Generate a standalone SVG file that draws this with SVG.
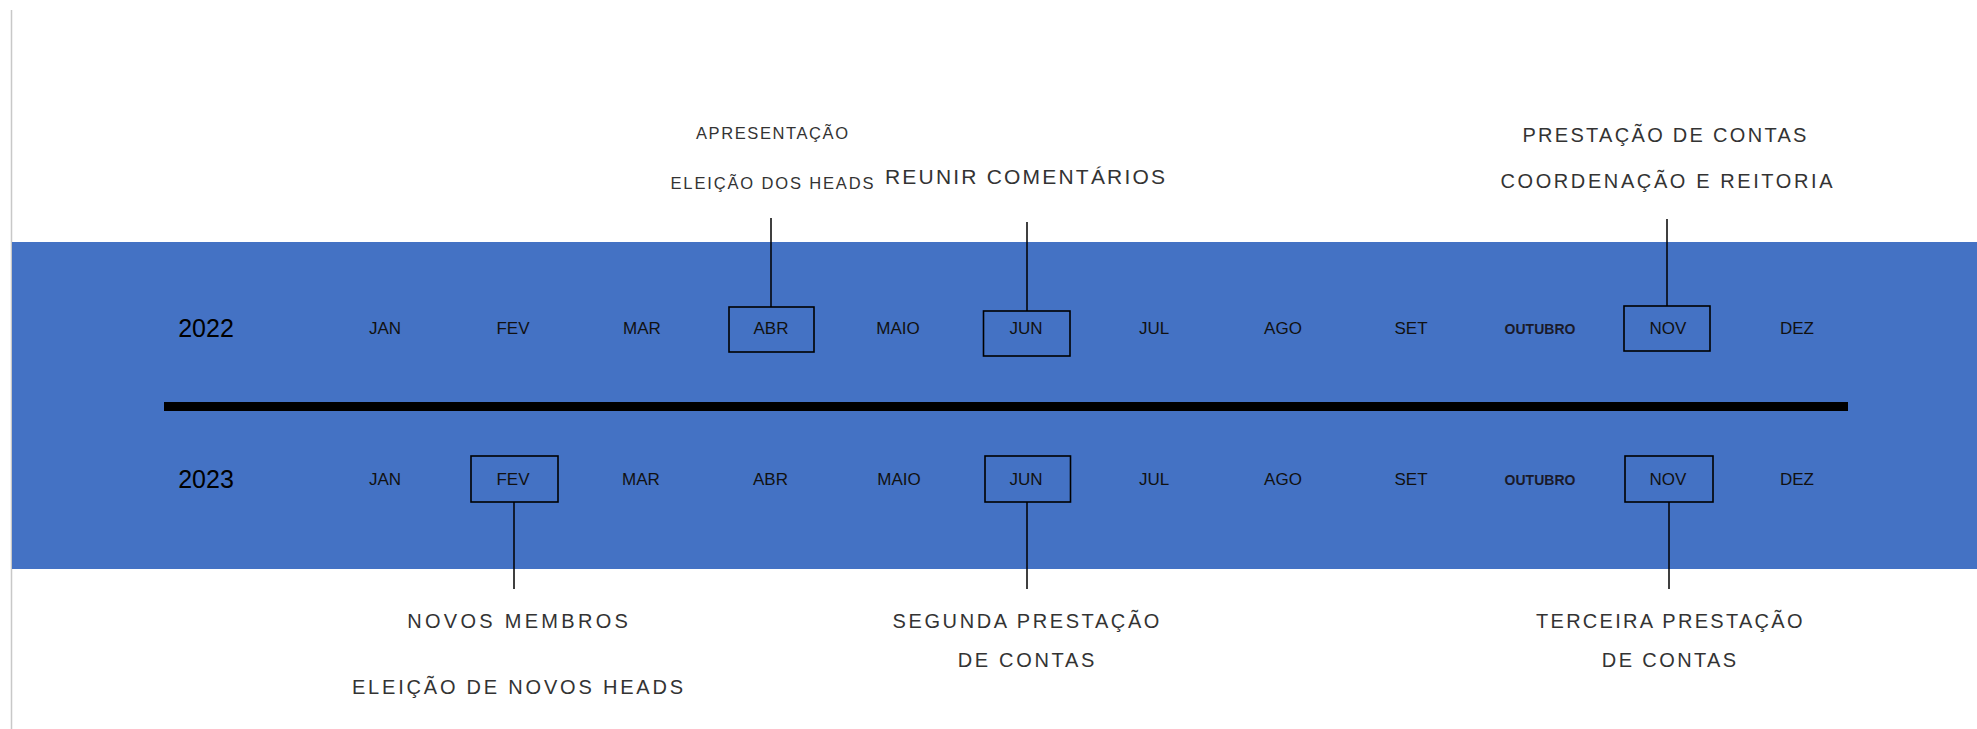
<svg xmlns="http://www.w3.org/2000/svg" width="1977" height="729" viewBox="0 0 1977 729">
<style>
.mon{font-family:"Liberation Sans",Arial,sans-serif;font-size:17px;fill:#111;text-anchor:middle}
.oct{font-family:"Liberation Sans",Arial,sans-serif;font-size:14px;font-weight:bold;fill:#1a1a2a;text-anchor:middle}
.yr{font-family:"Liberation Sans",Arial,sans-serif;font-size:25px;fill:#000;text-anchor:middle}
.lbl{font-family:"Liberation Sans",Arial,sans-serif;font-size:20px;fill:#333;text-anchor:middle}
.sm{font-family:"Liberation Sans",Arial,sans-serif;font-size:16.5px;fill:#333;text-anchor:middle}
.box{fill:none;stroke:#000;stroke-width:1.6}
.con{stroke:#000;stroke-width:1.5;fill:none}
</style>
<rect x="0" y="0" width="1977" height="729" fill="#ffffff"/>
<line x1="11.5" y1="10" x2="11.5" y2="729" stroke="#c8c8c8" stroke-width="1.5"/>
<rect id="band" x="12" y="242" width="1965" height="327" fill="#4472c4"/>
<rect id="axis" x="164" y="402" width="1684" height="9" fill="#000"/>

<g id="connectors">
<line class="con" x1="771" y1="218" x2="771" y2="307"/>
<line class="con" x1="1027" y1="222" x2="1027" y2="311"/>
<line class="con" x1="1667" y1="219" x2="1667" y2="306"/>
<line class="con" x1="514" y1="502" x2="514" y2="589"/>
<line class="con" x1="1027" y1="502" x2="1027" y2="589"/>
<line class="con" x1="1669" y1="502" x2="1669" y2="589"/>
</g>

<g id="year-2022"><text class="yr" x="206" y="337">2022</text></g>
<g id="y22-jan"><text class="mon" x="385" y="334">JAN</text></g>
<g id="y22-fev"><text class="mon" x="513" y="334">FEV</text></g>
<g id="y22-mar"><text class="mon" x="642" y="334">MAR</text></g>
<g id="y22-abr"><rect class="box" x="729" y="307" width="85" height="45"/><text class="mon" x="771" y="334">ABR</text></g>
<g id="y22-maio"><text class="mon" x="898" y="334">MAIO</text></g>
<g id="y22-jun"><rect class="box" x="983.5" y="311" width="86.5" height="45"/><text class="mon" x="1026" y="334">JUN</text></g>
<g id="y22-jul"><text class="mon" x="1154" y="334">JUL</text></g>
<g id="y22-ago"><text class="mon" x="1283" y="334">AGO</text></g>
<g id="y22-set"><text class="mon" x="1411" y="334">SET</text></g>
<g id="y22-out"><text class="oct" x="1540" y="334">OUTUBRO</text></g>
<g id="y22-nov"><rect class="box" x="1624" y="306" width="86" height="45"/><text class="mon" x="1668" y="334">NOV</text></g>
<g id="y22-dez"><text class="mon" x="1797" y="334">DEZ</text></g>

<g id="year-2023"><text class="yr" x="206" y="488">2023</text></g>
<g id="y23-jan"><text class="mon" x="385" y="485">JAN</text></g>
<g id="y23-fev"><rect class="box" x="471" y="456" width="87" height="46"/><text class="mon" x="513" y="485">FEV</text></g>
<g id="y23-mar"><text class="mon" x="641" y="485">MAR</text></g>
<g id="y23-abr"><text class="mon" x="770.5" y="485">ABR</text></g>
<g id="y23-maio"><text class="mon" x="899" y="485">MAIO</text></g>
<g id="y23-jun"><rect class="box" x="985" y="456" width="85.5" height="46"/><text class="mon" x="1026" y="485">JUN</text></g>
<g id="y23-jul"><text class="mon" x="1154" y="485">JUL</text></g>
<g id="y23-ago"><text class="mon" x="1283" y="485">AGO</text></g>
<g id="y23-set"><text class="mon" x="1411" y="485">SET</text></g>
<g id="y23-out"><text class="oct" x="1540" y="485">OUTUBRO</text></g>
<g id="y23-nov"><rect class="box" x="1625" y="456" width="88" height="46"/><text class="mon" x="1668" y="485">NOV</text></g>
<g id="y23-dez"><text class="mon" x="1797" y="485">DEZ</text></g>

<g id="note-abr">
<text class="sm" x="772.8" y="139" letter-spacing="1.6">APRESENTAÇÃO</text>
<text class="sm" x="772.9" y="189" letter-spacing="1.85">ELEIÇÃO DOS HEADS</text>
</g>
<g id="note-jun22"><text class="lbl" x="1026.1" y="184" letter-spacing="2.2" style="font-size:21px">REUNIR COMENTÁRIOS</text></g>
<g id="note-nov22">
<text class="lbl" x="1665.6" y="142" letter-spacing="2.3">PRESTAÇÃO DE CONTAS</text>
<text class="lbl" x="1667.8" y="188" letter-spacing="2.6">COORDENAÇÃO E REITORIA</text>
</g>
<g id="note-fev23">
<text class="lbl" x="519.2" y="628" letter-spacing="3.3">NOVOS MEMBROS</text>
<text class="lbl" x="518.9" y="694" letter-spacing="2.8">ELEIÇÃO DE NOVOS HEADS</text>
</g>
<g id="note-jun23">
<text class="lbl" x="1027.3" y="628" letter-spacing="2.6">SEGUNDA PRESTAÇÃO</text>
<text class="lbl" x="1027.4" y="667" letter-spacing="2.7">DE CONTAS</text>
</g>
<g id="note-nov23">
<text class="lbl" x="1670.4" y="628" letter-spacing="2.3">TERCEIRA PRESTAÇÃO</text>
<text class="lbl" x="1670.2" y="667" letter-spacing="2.4">DE CONTAS</text>
</g>
</svg>
